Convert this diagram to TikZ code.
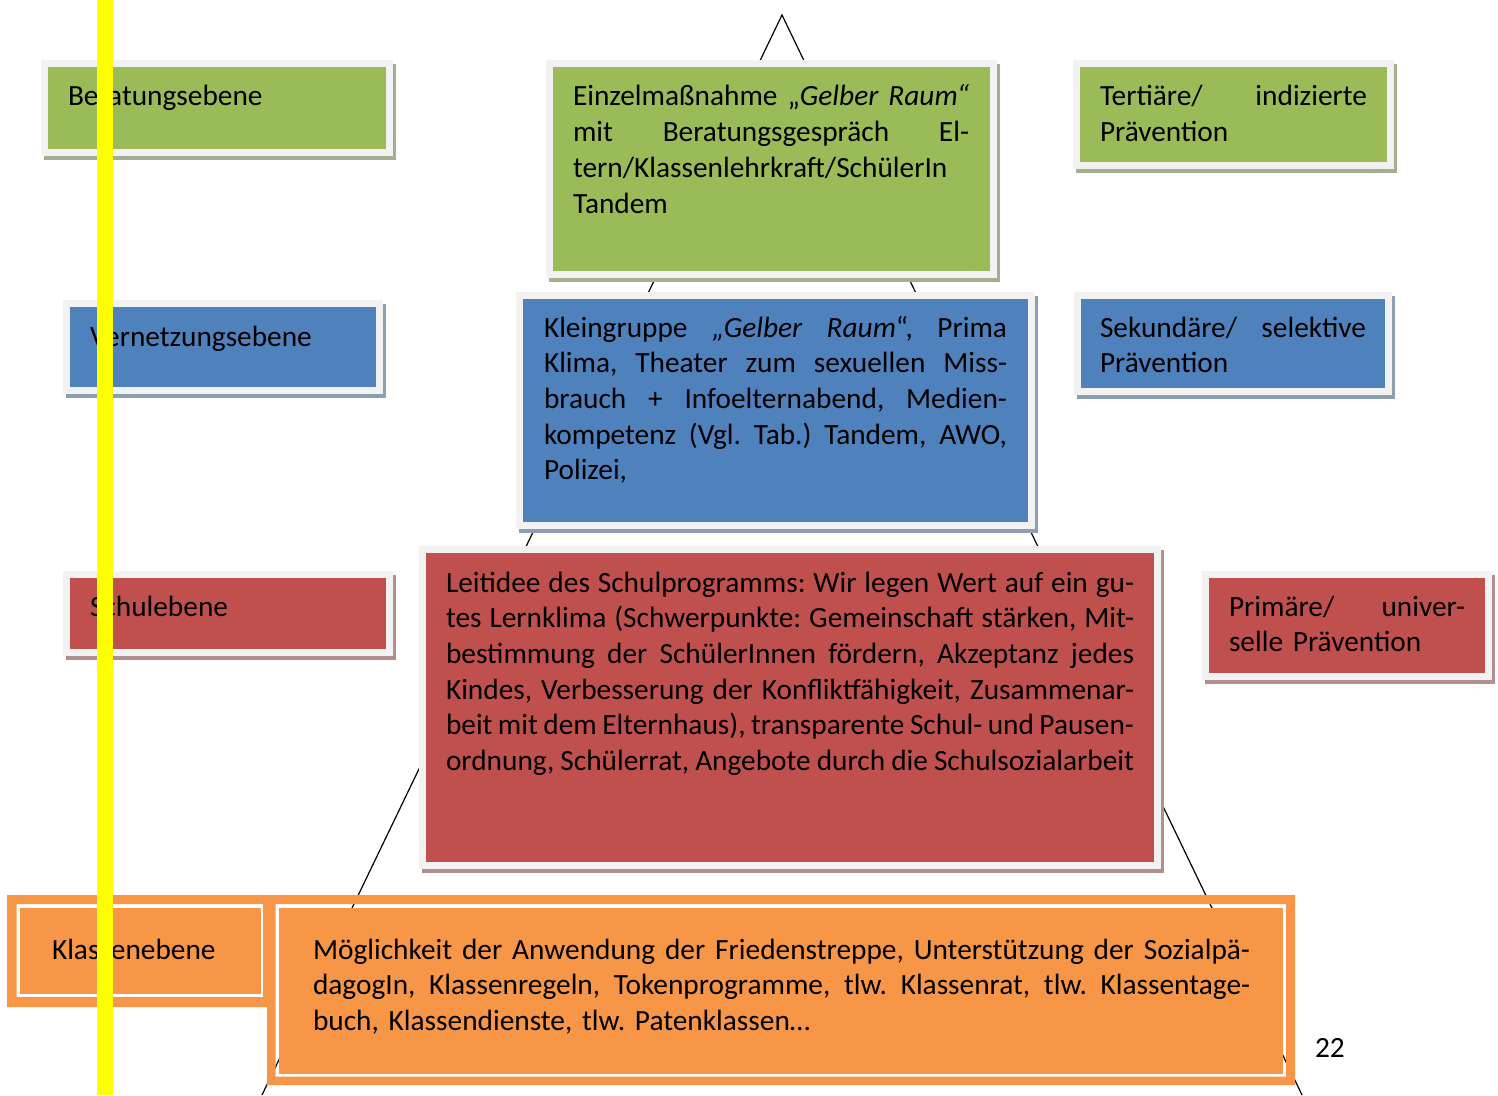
\documentclass[tikz,border=0pt]{standalone}
\usepackage{fontspec}
\setmainfont{Carlito}
\frenchspacing
\definecolor{cgreen}{HTML}{9BBB59}
\definecolor{cblue}{HTML}{4F81BD}
\definecolor{cred}{HTML}{C0504D}
\definecolor{corange}{HTML}{F79646}
\definecolor{cborder}{HTML}{F2F2F2}
\definecolor{sgreen}{HTML}{A5AE93}
\definecolor{sblue}{HTML}{8D9DB3}
\definecolor{sred}{HTML}{B38E8E}
\definecolor{cyellow}{HTML}{FFFF00}
\newcommand\ebox[6]{%
  \fill[#6] (#1+3,#2+4) rectangle (#3+3,#4+4);
  \fill[cborder] (#1,#2) rectangle (#3,#4);
  \fill[#5] (#1+7,#2+7) rectangle (#3-7,#4-7);}
\newcommand\jl[2]{\makebox[#1][s]{\frenchspacing\spaceskip=0.226em plus 1em minus 0.12em\relax #2}}
\tikzset{
  txt/.style={anchor=base west, inner sep=0pt, outer sep=0pt, align=left,
    font=\fontsize{22}{26.8}\selectfont, text=black},
  tri/.style={draw=black, line width=0.9pt}
}
\begin{document}
\begin{tikzpicture}[x=0.75pt,y=-0.75pt]
\useasboundingbox (0,0) rectangle (1498,1095);
% triangle
\coordinate (apex) at (782,15);
\coordinate (bl) at (262,1095);
\coordinate (br) at (1302,1095);
\draw[tri] (bl) -- (apex) -- (br);
% boxes
\ebox{41}{60}{393}{156}{cgreen}{sgreen}
\ebox{546}{60}{997}{278}{cgreen}{sgreen}
\ebox{1073}{60}{1394}{169}{cgreen}{sgreen}
\ebox{63}{300}{383}{394}{cblue}{sblue}
\ebox{516}{292}{1035}{529}{cblue}{sblue}
\ebox{1074}{292}{1392}{395}{cblue}{sblue}
\ebox{63}{571}{393}{656}{cred}{sred}
\ebox{419}{546}{1161}{869}{cred}{sred}
\ebox{1202}{571}{1492}{680}{cred}{sred}
% orange boxes (double frame with gap)
\fill[corange, even odd rule] (7,895) rectangle (267,1007) (16.5,904) rectangle (263,997);
\fill[corange] (19.5,907.5) rectangle (260.5,993.5);
\fill[corange, even odd rule] (267,895) rectangle (1295,1085) (275.5,904) rectangle (1286,1076.5);
\fill[corange] (278.5,907.5) rectangle (1283,1073.5);
% texts
\node[txt] (t1) at (68,106) {Beratungsebene};
\node[txt, text width=297pt] (t2) at (573,106) {\jl{297pt}{Einzelmaßnahme „\textit{Gelber Raum“}}\\\jl{297pt}{mit Beratungsgespräch El-}\\tern/Klassenlehrkraft/SchülerIn\\Tandem};
\node[txt, text width=200.25pt] (t3) at (1100,106) {\jl{200.25pt}{Tertiäre/ indizierte}\\Prävention};
\node[txt] (t4) at (90,346) {Vernetzungsebene};
\node[txt, text width=347.25pt] (t5) at (544,337) {\jl{347.25pt}{Kleingruppe \textit{„Gelber Raum}“, Prima}\\\jl{347.25pt}{Klima, Theater zum sexuellen Miss-}\\\jl{347.25pt}{brauch + Infoelternabend, Medien-}\\\jl{347.25pt}{kompetenz (Vgl. Tab.) Tandem, AWO,}\\Polizei,};
\node[txt, text width=199.5pt] (t6) at (1100,337) {\jl{199.5pt}{Sekundäre/ selektive}\\Prävention};
\node[txt] (t7) at (90,616) {Schulebene};
\node[txt, text width=516pt] (t8) at (446,592) {\jl{516pt}{Leitidee des Schulprogramms: Wir legen Wert auf ein gu-}\\\jl{516pt}{tes Lernklima (Schwerpunkte: Gemeinschaft stärken, Mit-}\\\jl{516pt}{bestimmung der SchülerInnen fördern, Akzeptanz jedes}\\\jl{516pt}{Kindes, Verbesserung der Konfliktfähigkeit, Zusammenar-}\\\jl{516pt}{beit mit dem Elternhaus), transparente Schul- und Pausen-}\\\jl{516pt}{ordnung, Schülerrat, Angebote durch die Schulsozialarbeit}};
\node[txt, text width=177pt] (t9) at (1229,616) {\jl{177pt}{Primäre/ univer-}\\selle Prävention};
\node[txt] (t10) at (52,959) {Klassenebene};
\node[txt, text width=702.75pt] (t11) at (313,959) {\jl{702.75pt}{Möglichkeit der Anwendung der Friedenstreppe, Unterstützung der Sozialpä-}\\\jl{702.75pt}{dagogIn, Klassenregeln, Tokenprogramme, tlw. Klassenrat, tlw. Klassentage-}\\buch, Klassendienste, tlw. Patenklassen…};
\node[txt] (pg) at (1315,1057) {22};
% yellow bar
\fill[cyellow] (97,0) rectangle (113,1095);
\end{tikzpicture}
\end{document}
